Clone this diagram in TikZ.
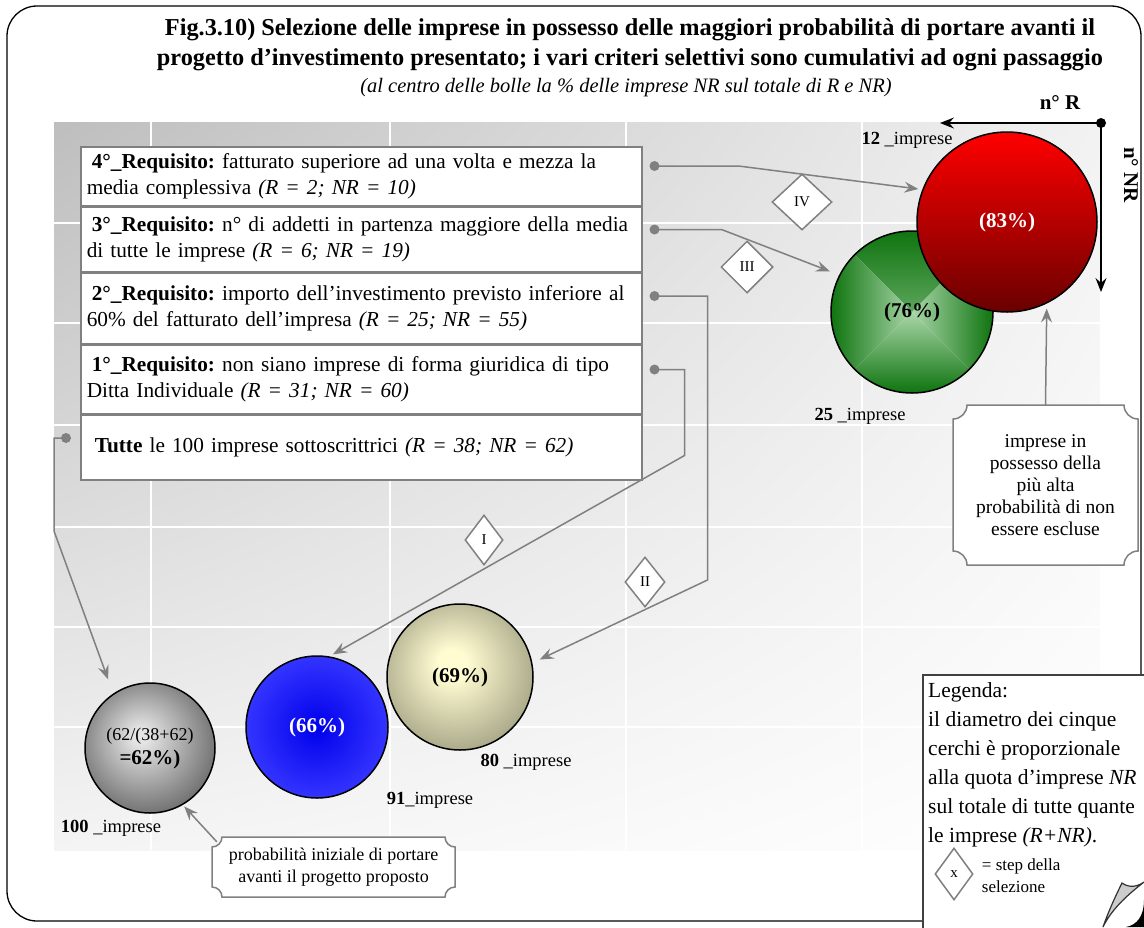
\documentclass[tikz,border=0pt]{standalone}
\usepackage{fontspec}
\setmainfont{Liberation Serif}
\usetikzlibrary{positioning, arrows.meta, shapes.geometric, shadings}
\frenchspacing
\hyphenpenalty=10000

\definecolor{ballgrayA}{HTML}{E4E4E4}
\definecolor{ballgrayB}{HTML}{6C6C6C}
\definecolor{creamA}{HTML}{FFFCD2}
\definecolor{creamB}{HTML}{A5A485}
\definecolor{greenA}{HTML}{A9D6A9}
\definecolor{greenB}{HTML}{0F740F}
\definecolor{redA}{HTML}{FF0000}
\definecolor{redB}{HTML}{6A0000}
\definecolor{blueA}{HTML}{0000EC}
\definecolor{blueB}{HTML}{3434FF}
\definecolor{panelTL}{HTML}{BEBEBE}
\definecolor{panelTR}{HTML}{F2F2F2}
\definecolor{panelBL}{HTML}{F4F4F4}

\pgfdeclareradialshading{grayball}{\pgfpoint{-4bp}{5bp}}{color(0bp)=(ballgrayA); color(3bp)=(ballgrayA); color(29bp)=(ballgrayB); color(50bp)=(ballgrayB)}
\pgfdeclareradialshading{creamball}{\pgfpoint{-3bp}{5bp}}{color(0bp)=(creamA); color(5bp)=(creamA); color(29bp)=(creamB); color(50bp)=(creamB)}

% callout with hollow corners
\newcommand\plaque[5]{%
  \draw[callout] (#1+#5,#2) -- (#3-#5,#2) arc[start angle=180, end angle=270, radius=#5]
    -- (#3,#4+#5) arc[start angle=90, end angle=180, radius=#5]
    -- (#1+#5,#4) arc[start angle=0, end angle=90, radius=#5]
    -- (#1,#2-#5) arc[start angle=270, end angle=360, radius=#5] -- cycle;}

\begin{document}
\begin{tikzpicture}[
    x=1pt, y=1pt,
    node distance=0pt,
    req/.style={
        rectangle,
        draw=gray,
        line width=1.5pt,
        fill=white,
        text width=549pt,
        align=left,
        inner xsep=6pt,
        inner ysep=0pt,
        font=\fontsize{21.3}{26}\selectfont
    },
    dot/.style={circle, fill=gray, inner sep=0pt, minimum size=10pt},
    conn/.style={draw=gray, line width=1.5pt, -{Stealth[length=14pt, width=11pt, inset=5pt]}},
    axis/.style={draw=black, line width=1.5pt, -{Stealth[length=14pt, width=11pt, inset=5pt]}},
    stepmark/.style={
        diamond,
        draw=gray,
        line width=1.5pt,
        fill=white,
        inner sep=0pt,
        font=\fontsize{15}{15}\selectfont
    },
    bubble/.style={
        circle,
        draw=black,
        line width=1.5pt,
        inner sep=0pt,
        align=center,
        font=\bfseries\fontsize{21}{24}\selectfont
    },
    pyramid/.style={path picture={
        \shade[top color=greenB, bottom color=greenA] (path picture bounding box.north west) -- (path picture bounding box.north east) -- (path picture bounding box.center) -- cycle;
        \shade[top color=greenA, bottom color=greenB] (path picture bounding box.south west) -- (path picture bounding box.south east) -- (path picture bounding box.center) -- cycle;
        \shade[left color=greenB, right color=greenA] (path picture bounding box.north west) -- (path picture bounding box.south west) -- (path picture bounding box.center) -- cycle;
        \shade[left color=greenA, right color=greenB] (path picture bounding box.north east) -- (path picture bounding box.south east) -- (path picture bounding box.center) -- cycle;
    }},
    cnt/.style={font=\fontsize{18.5}{18.5}\selectfont},
    note/.style={align=center, inner sep=0pt, font=\fontsize{18}{22}\selectfont},
    callout/.style={draw=gray, line width=1.5pt, fill=white}
]
\useasboundingbox (0,0) rectangle (1144,-927);

% frame and background
\draw[line width=1.3pt, rounded corners=30pt] (7,-6) rectangle (1141,-921);
\shade[upper left=panelTL, upper right=panelTR, lower left=panelBL, lower right=white] (54,-122) rectangle (1100,-850);
\foreach \gx in {151,390,626,862}
    \draw[white, line width=1.5pt] (\gx,-122) -- (\gx,-850);
\foreach \gy in {223,323,425,527,627,727}
    \draw[white, line width=1.5pt] (54,-\gy) -- (1100,-\gy);

% title
\node[font=\bfseries\fontsize{24.3}{30}\selectfont, align=center] (title) at (630,-45) {Fig.3.10) Selezione delle imprese in possesso delle maggiori probabilità di portare avanti il\\progetto d'investimento presentato; i vari criteri selettivi sono cumulativi ad ogni passaggio};
\node[font=\itshape\fontsize{20.5}{20.5}\selectfont] (sub) at (626,-88) {(al centro delle bolle la \% delle imprese NR sul totale di R e NR)};

% requisiti
\node[req, minimum height=59pt, anchor=north west] (r4) at (80,-146) {\hspace{5pt}\textbf{4°\_Requisito:} fatturato superiore ad una volta e mezza la\\media complessiva \textit{(R = 2; NR = 10)}};
\node[req, minimum height=64pt, below=of r4] (r3) {\hspace{5pt}\textbf{3°\_Requisito:} n° di addetti in partenza maggiore della media\\di tutte le imprese \textit{(R = 6; NR = 19)}};
\node[req, minimum height=71pt, below=of r3] (r2) {\hspace{5pt}\textbf{2°\_Requisito:} importo dell'investimento previsto inferiore al\\60\% del fatturato dell'impresa \textit{(R = 25; NR = 55)}};
\node[req, minimum height=68pt, below=of r2] (r1) {\hspace{5pt}\textbf{1°\_Requisito:} non siano imprese di forma giuridica di tipo\\Ditta Individuale \textit{(R = 31; NR = 60)}};
\node[req, minimum height=65pt, below=of r1] (r0) {\hspace{8pt}\textbf{Tutte} le 100 imprese sottoscrittrici \textit{(R = 38; NR = 62)}};

\node[dot] (d4) at ([xshift=12pt, yshift=-20pt]r4.north east) {};
\node[dot] (d3) at ([xshift=12pt, yshift=-23pt]r3.north east) {};
\node[dot] (d2) at ([xshift=12pt, yshift=-24pt]r2.north east) {};
\node[dot] (d1) at ([xshift=12pt, yshift=-25pt]r1.north east) {};
\node[dot] (d0) at ([xshift=-14pt, yshift=-24pt]r0.north west) {};

% bubbles
\node[bubble, shading=grayball, minimum size=130pt] (b100) at (150,-748) {{\mdseries\fontsize{18}{24}\selectfont(62/(38+62)}\\=62\%)};
\node[bubble, inner color=blueA, outer color=blueB, text=white, minimum size=142pt] (b91) at (317,-727) {(66\%)};
\node[bubble, shading=creamball, minimum size=146pt] (b80) at (460,-677) {(69\%)};
\node[bubble, pyramid, minimum size=162pt] (b25) at (912,-312) {(76\%)};
\node[bubble, top color=redA, bottom color=redB, text=white, minimum size=180pt] (b12) at (1007,-222) {(83\%)};

\node[cnt] (n100) at (111,-828) {\textbf{100} \_imprese};
\node[cnt] (n91) at (430,-800) {\textbf{91}\_imprese};
\node[cnt] (n80) at (526,-762) {\textbf{80} \_imprese};
\node[cnt] (n25) at (860,-416) {\textbf{25} \_imprese};
\node[cnt] (n12) at (907,-140) {\textbf{12} \_imprese};

% selection steps
\draw[conn, shorten >=4pt] (d4.center) -- ++(84,0) -- (b12.159);
\draw[conn, shorten >=10pt] (d3.center) -- ++(67,0) -- (b25.153);
\draw[conn, shorten >=8pt] (d2.center) -- ++(53,0) -- ++(0,-284) -- (b80.11);
\draw[conn, shorten >=4pt] (d1.center) -- ++(30,0) -- ++(0,-86) -- (b91.80);
\draw[conn, shorten >=15pt] (d0.center) -- ++(-12,0) -- ++(0,-93) -- (b100.124);

\node[stepmark, minimum width=60pt, minimum height=56pt] (s4) at (802,-202) {IV};
\node[stepmark, minimum width=52pt, minimum height=52pt] (s3) at (747,-267) {III};
\node[stepmark, minimum width=40pt, minimum height=50pt] (s2) at (645,-582) {II};
\node[stepmark, minimum width=38pt, minimum height=50pt] (s1) at (484,-540) {I};

% axes
\node[circle, fill=black, inner sep=0pt, minimum size=10pt] (o) at (1101,-123) {};
\coordinate (rEnd) at (940,-123);
\coordinate (nrEnd) at (1101,-292);
\draw[axis] (o.center) -- (rEnd);
\draw[axis] (o.center) -- (nrEnd);
\node[font=\bfseries\fontsize{21}{21}\selectfont] (lr) at (1060,-103) {n° R};
\node[font=\bfseries\fontsize{21}{21}\selectfont, rotate=-90] (lnr) at (1131,-175) {n° NR};

% callouts
\plaque{953}{-405}{1138}{-565}{14}
\node[note, font=\fontsize{19.5}{22}\selectfont, minimum width=185pt, minimum height=160pt] (note1) at (1045.5,-485) {imprese in\\possesso della\\più alta\\probabilità di non\\essere escluse};
\draw[conn, shorten >=5pt] (note1.north) -- (b12.-64);

\plaque{212}{-837}{455}{-897}{10}
\node[note, minimum width=243pt, minimum height=60pt] (note2) at (333.5,-867) {probabilità iniziale di portare\\avanti il progetto proposto};
\draw[conn, shorten >=2pt] ([shift={(5,-5)}]note2.north west) -- (b100.-60);

% legend
\draw[line width=1.5pt, draw=black!75, fill=white] (923,-675) rectangle (1147,-930);
\node[align=left, anchor=north west, inner sep=0pt, font=\fontsize{21.5}{29}\selectfont] (leg) at (928,-682) {Legenda:\\il diametro dei cinque\\cerchi è proporzionale\\alla quota d'imprese \textit{NR}\\sul totale di tutte quante\\le imprese \textit{(R+NR)}.};
\node[stepmark, minimum width=38pt, minimum height=52pt] (sx) at (954,-874) {x};
\node[align=left, anchor=west, inner sep=0pt, font=\fontsize{17}{22}\selectfont] (sxt) at ([xshift=8pt, yshift=-2pt]sx.east) {= step della\\selezione};
\fill[black] (1126,-927) .. controls (1137,-925) and (1144,-916) .. (1144,-900) -- (1144,-927) -- cycle;
\draw[fill=black!20, line width=1.2pt, draw=black!80] (1103,-927) .. controls (1109,-910) and (1116,-895) .. (1122,-883) .. controls (1129,-888) and (1137,-887) .. (1144,-882) .. controls (1130,-893) and (1112,-908) .. (1103,-927) -- cycle;

\end{tikzpicture}
\end{document}
